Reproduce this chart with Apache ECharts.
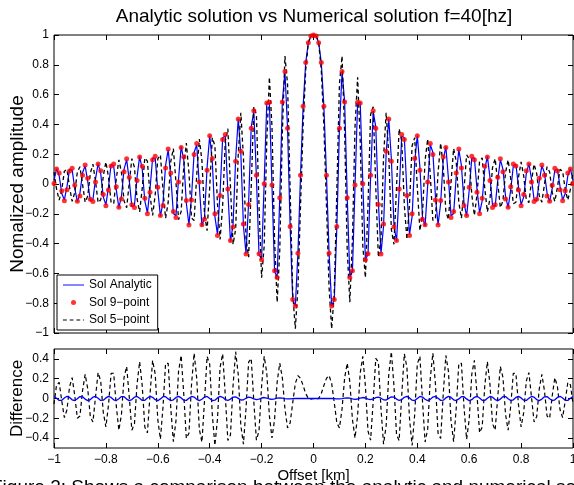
<!DOCTYPE html>
<html>
<head>
<meta charset="utf-8">
<script src="https://cdn.jsdelivr.net/npm/echarts@6/dist/echarts.min.js"></script>
<style>
html, body { margin: 0; padding: 0; background: #fff; }
#chart { width: 574px; height: 485px; }
</style>
</head>
<body>
<div id="chart"></div>
<script>
// samples every 0.01 km, values read for offsets 0 .. 1 km (the picture is symmetric about 0)
var analyticHalf = [1.000,0.993,0.948,0.815,0.521,0.059,-0.463,-0.819,-0.777,-0.289,
  0.372,0.754,0.553,-0.087,-0.625,-0.587,-0.015,0.543,0.547,0.011,
  -0.504,-0.474,0.046,0.487,0.384,-0.123,-0.467,-0.282,0.205,0.438,
  0.169,-0.274,-0.386,-0.054,0.322,0.310,-0.056,-0.340,-0.217,0.151,
  0.325,0.113,-0.222,-0.282,-0.008,0.263,0.213,-0.087,-0.274,-0.129,
  0.164,0.251,0.035,-0.214,-0.198,0.053,0.231,0.125,-0.126,-0.216,
  -0.044,0.174,0.174,-0.034,-0.194,-0.114,0.100,0.185,0.044,-0.144,
  -0.150,0.024,0.164,0.100,-0.082,-0.159,-0.040,0.122,0.131,-0.019,
  -0.140,-0.087,0.070,0.137,0.035,-0.105,-0.113,0.017,0.122,0.075,
  -0.061,-0.119,-0.030,0.093,0.098,-0.016,-0.107,-0.064,0.055,0.103,
  0.024];
var fivePointHalf = [1.000,0.999,0.947,0.765,0.390,-0.144,-0.695,-0.971,-0.736,-0.042,
  0.670,0.859,0.345,-0.444,-0.793,-0.376,0.384,0.716,0.290,-0.414,
  -0.629,-0.146,0.467,0.518,-0.021,-0.491,-0.367,0.180,0.478,0.196,
  -0.304,-0.405,-0.018,0.371,0.288,-0.141,-0.372,-0.135,0.257,0.311,
  -0.022,-0.313,-0.200,0.158,0.302,0.060,-0.245,-0.229,0.077,0.274,
  0.117,-0.184,-0.239,0.012,0.238,0.152,-0.124,-0.230,-0.038,0.195,
  0.169,-0.072,-0.211,-0.074,0.153,0.175,-0.028,-0.187,-0.099,0.112,
  0.170,0.007,-0.159,-0.114,0.077,0.162,0.035,-0.133,-0.122,0.046,
  0.148,0.055,-0.106,-0.125,0.019,0.133,0.071,-0.081,-0.122,-0.003,
  0.116,0.081,-0.058,-0.117,-0.022,0.098,0.086,-0.037,-0.108,-0.036,
  0.080];
// analytic minus 9-point
var diffNineHalf = [0,0,0,0,0,0,0.001,0,-0.001,-0.003,
  -0.003,-0.001,0.003,0.006,0.003,-0.004,-0.008,-0.005,0.004,0.010,
  0.005,-0.006,-0.012,-0.005,0.009,0.014,0.003,-0.013,-0.015,0.001,
  0.017,0.014,-0.006,-0.020,-0.011,0.012,0.022,0.006,-0.017,-0.020,
  0.001,0.021,0.015,-0.008,-0.022,-0.009,0.015,0.021,0.002,-0.019,
  -0.017,0.006,0.022,0.011,-0.013,-0.021,-0.004,0.018,0.018,-0.004,
  -0.022,-0.012,0.012,0.022,0.005,-0.018,-0.019,0.003,0.021,0.013,
  -0.011,-0.022,-0.006,0.018,0.019,-0.003,-0.021,-0.013,0.011,0.022,
  0.006,-0.017,-0.019,0.003,0.021,0.013,-0.011,-0.022,-0.006,0.017,
  0.019,-0.003,-0.021,-0.013,0.011,0.022,0.005,-0.018,-0.019,0.003,
  0.021];
var diffTicks = [-0.4,-0.2,0,0.2,0.4];

function mirror(half) { return half.slice(1).reverse().concat(half); }
var offsets = [];
for (var i = -100; i <= 100; i++) offsets.push(i / 100);
var analytic = mirror(analyticHalf);
var fivePoint = mirror(fivePointHalf);
var diffNine = mirror(diffNineHalf);
var ninePoint = analytic.map(function (v, i) { return +(v - diffNine[i]).toFixed(3); });
var diffFive = analytic.map(function (v, i) { return +(v - fivePoint[i]).toFixed(3); });
function pts(ys) { return offsets.map(function (x, i) { return [x, ys[i]]; }); }

var font = '"Liberation Sans", Arial, Helvetica, sans-serif';
function fmt(v) { return String(+v.toFixed(2)).replace('-', '\u2212'); }
var tick = { inside: true, length: 5, lineStyle: { color: '#000', width: 1 } };
var noLine = { show: false, onZero: false };
var lab = { color: '#000', fontSize: 12, fontFamily: font, formatter: fmt };

var chart = echarts.init(document.getElementById('chart'));
var option = {
  animation: false,
  backgroundColor: '#fff',
  title: {
    text: 'Analytic solution vs Numerical solution f=40[hz]',
    left: 309, top: 2, textAlign: 'center',
    textStyle: { color: '#000', fontSize: 19, fontWeight: 'normal', fontFamily: font }
  },
  legend: {
    data: [
      { name: 'Sol Analytic', icon: 'path://M0,0h22v1h-22z' },
      { name: 'Sol 9\u2212point', icon: 'circle' },
      { name: 'Sol 5\u2212point', icon: 'path://M0,0h4v1h-4zM7,0h4v1h-4zM14,0h4v1h-4zM21,0h1v1h-1z' }
    ],
    orient: 'vertical', left: 57, top: 275,
    itemWidth: 21, itemHeight: 5, itemGap: 3.5,
    padding: [3, 6, 3, 6],
    backgroundColor: '#fff', borderColor: '#000', borderWidth: 1,
    textStyle: { color: '#000', fontSize: 12, fontFamily: font, lineHeight: 14 }
  },
  grid: [
    { left: 54, top: 35, width: 519, height: 298, show: true, borderColor: '#000', borderWidth: 1,
      containLabel: false, outerBoundsMode: 'none' },
    { left: 54, top: 349, width: 519, height: 99, show: true, borderColor: '#000', borderWidth: 1,
      containLabel: false, outerBoundsMode: 'none' }
  ],
  xAxis: [
    { gridIndex: 0, type: 'value', min: -1, max: 1, interval: 0.2, axisLine: noLine,
      axisTick: tick, axisLabel: { show: false }, splitLine: { show: false } },
    { gridIndex: 0, type: 'value', position: 'top', min: -1, max: 1, interval: 0.2, axisLine: noLine,
      axisTick: tick, axisLabel: { show: false }, splitLine: { show: false } },
    { gridIndex: 1, type: 'value', min: -1, max: 1, interval: 0.2, axisLine: noLine,
      axisTick: tick, splitLine: { show: false },
      axisLabel: Object.assign({ margin: 6, showMinLabel: true, showMaxLabel: true }, lab),
      name: 'Offset [km]', nameLocation: 'middle', nameGap: 20, nameMoveOverlap: false,
      nameTextStyle: { color: '#000', fontSize: 15, fontFamily: font } },
    { gridIndex: 1, type: 'value', position: 'top', min: -1, max: 1, interval: 0.2, axisLine: noLine,
      axisTick: tick, axisLabel: { show: false }, splitLine: { show: false } }
  ],
  yAxis: [
    { gridIndex: 0, type: 'value', min: -1, max: 1, interval: 0.2, axisLine: noLine,
      axisTick: tick, splitLine: { show: false }, axisLabel: Object.assign({ margin: 5 }, lab),
      name: 'Nomalized amplitude', nameLocation: 'middle', nameGap: 27, nameMoveOverlap: false,
      nameTextStyle: { color: '#000', fontSize: 19, fontFamily: font } },
    { gridIndex: 0, type: 'value', position: 'right', min: -1, max: 1, interval: 0.2, axisLine: noLine,
      axisTick: tick, axisLabel: { show: false }, splitLine: { show: false } },
    { gridIndex: 1, type: 'value', min: -0.5, max: 0.5, axisLine: noLine,
      axisTick: Object.assign({ customValues: diffTicks }, tick), splitLine: { show: false },
      axisLabel: Object.assign({ margin: 5, customValues: diffTicks }, lab),
      name: 'Difference', nameLocation: 'middle', nameGap: 28, nameMoveOverlap: false,
      nameTextStyle: { color: '#000', fontSize: 17, fontFamily: font } },
    { gridIndex: 1, type: 'value', position: 'right', min: -0.5, max: 0.5, axisLine: noLine,
      axisTick: Object.assign({ customValues: diffTicks }, tick), axisLabel: { show: false }, splitLine: { show: false } }
  ],
  series: [
    { name: 'Sol Analytic', type: 'line', xAxisIndex: 0, yAxisIndex: 0, data: pts(analytic),
      symbol: 'none', lineStyle: { color: '#0000ff', width: 1.2 }, itemStyle: { color: '#0000ff' }, z: 2 },
    { name: 'Sol 5\u2212point', type: 'line', xAxisIndex: 0, yAxisIndex: 0, data: pts(fivePoint),
      symbol: 'none', lineStyle: { color: '#000', width: 1.3, type: [4, 3] }, itemStyle: { color: '#000' }, z: 3 },
    { name: 'Sol 9\u2212point', type: 'scatter', xAxisIndex: 0, yAxisIndex: 0, data: pts(ninePoint),
      symbolSize: 5, itemStyle: { color: '#ff0000' }, z: 4 },
    { name: 'diff 5', type: 'line', xAxisIndex: 2, yAxisIndex: 2, data: pts(diffFive),
      symbol: 'none', lineStyle: { color: '#000', width: 1.2, type: [4, 3] }, z: 2 },
    { name: 'diff 9', type: 'line', xAxisIndex: 2, yAxisIndex: 2, data: pts(diffNine),
      symbol: 'none', lineStyle: { color: '#0000ff', width: 1.3 }, z: 3 }
  ],
  graphic: [
    { type: 'text', left: -9, top: 478, silent: true,
      style: { text: 'Figure 2: Shows a comparison between the analytic and numerical solutions',
        fill: '#000', fontSize: 19, fontFamily: font } }
  ]
};
chart.setOption(option);
</script>
</body>
</html>
